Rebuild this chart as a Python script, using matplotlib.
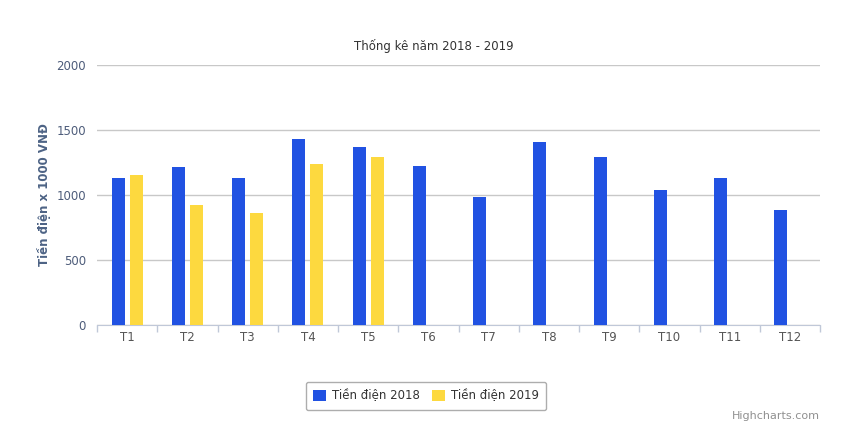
import numpy as np
import matplotlib
matplotlib.use("Agg")
import matplotlib.pyplot as plt

### Data
months = ['T1', 'T2', 'T3', 'T4', 'T5', 'T6', 'T7', 'T8', 'T9', 'T10', 'T11', 'T12']
tien_2018 = [1130, 1215, 1130, 1433, 1369, 1223, 985, 1408, 1292, 1038, 1131, 885]
tien_2019 = [1155, 926, 864, 1238, 1292]
yticks = [0, 500, 1000, 1500, 2000]

blue = '#2152e2'
yellow = '#fdd93f'

plt.rcParams['font.family'] = ['DejaVu Sans']

fig = plt.figure(figsize=(8.48, 4.36), dpi=100)
ax = fig.add_axes([0.1144, 0.2546, 0.8526, 0.5963])

x = np.arange(len(months))
w = 0.215
ax.bar(x - 0.15, tien_2018, width=w, color=blue, label='Tiền điện 2018', zorder=3)
ax.bar(np.arange(len(tien_2019)) + 0.15, tien_2019, width=w, color=yellow,
       label='Tiền điện 2019', zorder=3)

ax.set_xlim(-0.5, len(months) - 0.5)
ax.set_ylim(0, 2000)
ax.set_yticks(yticks)
ax.set_yticklabels([str(v) for v in yticks], color='#4d5c7a', fontsize=8.5)
ax.yaxis.grid(True, color='#c8c8c8', linewidth=1, zorder=0)
ax.tick_params(axis='y', length=0, pad=8)

ax.set_xticks(x)
ax.set_xticklabels(months, color='#555555', fontsize=8.5)
ax.set_xticks(np.arange(len(months) + 1) - 0.5, minor=True)
ax.tick_params(axis='x', which='major', length=0, pad=4)
ax.tick_params(axis='x', which='minor', length=5, color='#c0c8d8', width=1)

for side in ['top', 'right', 'left']:
  ax.spines[side].set_visible(False)
ax.spines['bottom'].set_color('#c0c8d8')

ax.set_ylabel('Tiền điện x 1000 VNĐ', color='#4d6385', fontsize=8.5,
              fontweight='bold', labelpad=4)

fig.text(0.512, 0.895, 'Thống kê năm 2018 - 2019', ha='center', va='center',
         fontsize=8.5, color='#333333')

leg = ax.legend(loc='center', bbox_to_anchor=(0.455, -0.273), ncol=2,
                frameon=True, fontsize=8.5, handlelength=1.1, handleheight=1.1,
                columnspacing=1.0, handletextpad=0.5, borderpad=0.45)
leg.get_frame().set_edgecolor('#999999')
leg.get_frame().set_linewidth(1)
leg.get_frame().set_boxstyle('round', pad=0.2)
for t in leg.get_texts():
  t.set_color('#333333')

fig.text(0.967, 0.047, 'Highcharts.com', ha='right', va='center',
         fontsize=8, color='#909090')

fig.savefig('out.png', dpi=100)
